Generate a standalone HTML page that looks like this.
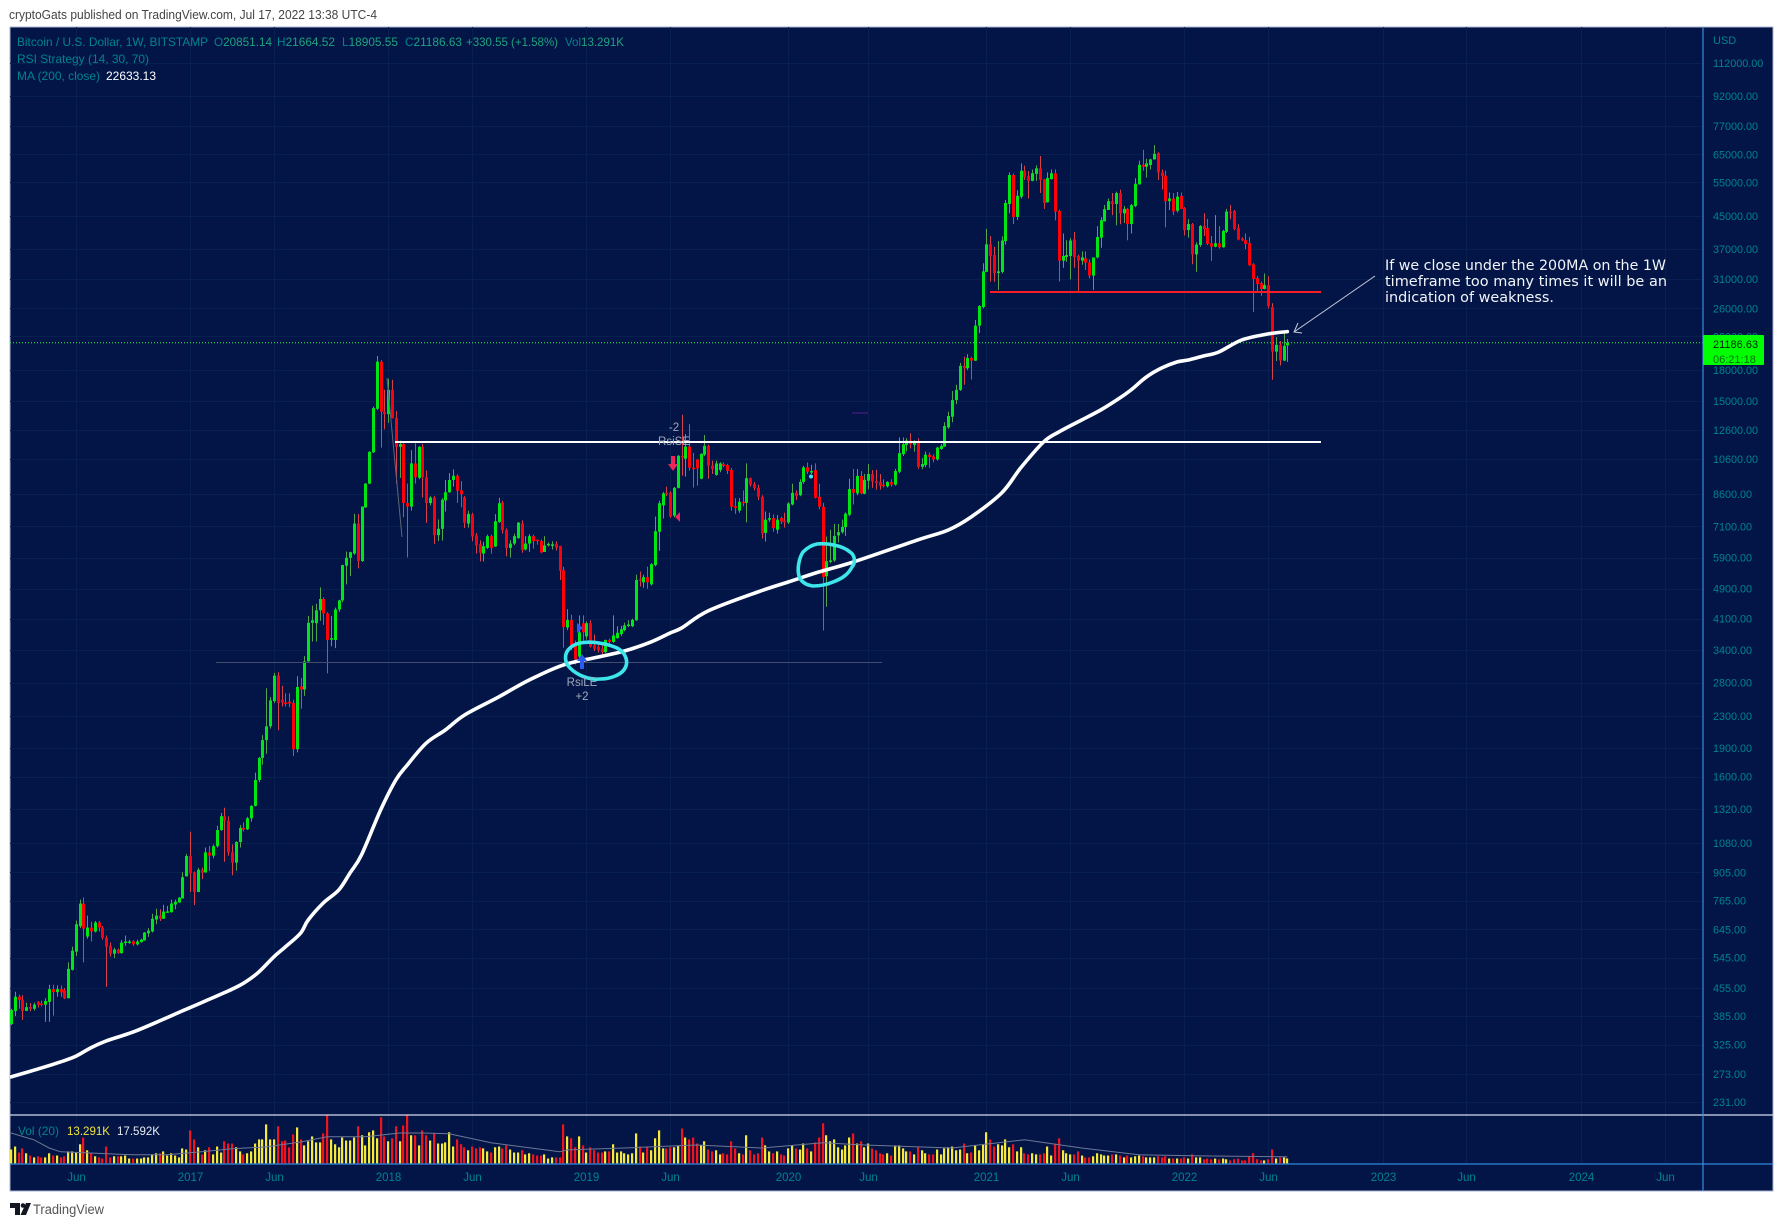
<!DOCTYPE html>
<html lang="en">
<head>
<meta charset="utf-8">
<title>Bitcoin / U.S. Dollar weekly chart</title>
<style>
html,body{margin:0;padding:0;background:#fff;width:1783px;height:1227px;overflow:hidden}
svg{display:block}
text{font-family:"Liberation Sans",sans-serif}
</style>
</head>
<body>
<svg id="chart" xmlns="http://www.w3.org/2000/svg" width="1783" height="1227" viewBox="0 0 1783 1227">
  <defs><clipPath id="pane"><rect x="10" y="27" width="1693" height="1137"/></clipPath></defs>
  <text x="9" y="19" font-size="12.5" fill="#444" textLength="368" lengthAdjust="spacingAndGlyphs">cryptoGats published on TradingView.com, Jul 17, 2022 13:38 UTC-4</text>
  <rect x="10" y="27" width="1763" height="1164" fill="#021546" stroke="#a9b4d4" stroke-width="1"/>
  <g id="grid"></g>
  <g id="volumeLayer" clip-path="url(#pane)"></g>
  <g id="candleLayer" clip-path="url(#pane)"></g>
  <line id="lastLine" x1="10" x2="1703" stroke="#2bff3a" stroke-width="1" stroke-dasharray="1 2"/>
  <line x1="216" y1="662.5" x2="882" y2="662.5" stroke="#414c6c" stroke-width="1"/>
  <line x1="387" y1="378" x2="402" y2="537" stroke="#5f6678" stroke-width="1"/>
  <line x1="395" y1="442" x2="1321" y2="442" stroke="#fff" stroke-width="2"/>
  <line x1="990" y1="292" x2="1321" y2="292" stroke="#f81c24" stroke-width="2"/>
  <path id="maLine" fill="none" stroke="#fff" stroke-width="3.6" stroke-linejoin="round" stroke-linecap="round" clip-path="url(#pane)"/>
  <polyline id="volMaLine" fill="none" stroke="#6d7896" stroke-width="1" clip-path="url(#pane)"/>
  <path d="M580 643 C590 641 606 643 617 648 C625 652 628 660 626 666 C623 675 610 679 600 679 C590 680 578 676 570 668 C564 662 564 653 570 648 C573 645 576 644 580 643 Z" fill="none" stroke="#3ce6ea" stroke-width="3.6"/>
  <path d="M817 544 C826 543 842 545 850 552 C856 556 855 564 852 567 C848 575 841 579 833 582 C826 585 819 586 813 586 C806 585 801 582 799 576 C797 569 799 558 803 552 C807 548 812 545 817 544 Z" fill="none" stroke="#3ce6ea" stroke-width="3.6"/>
  <g>
    <path d="M582 654 L587 661 L584 661 L584 669 L580 669 L580 661 L577 661 Z" fill="#2a5cf0"/>
    <path d="M577 623 L583 628 L577 633 Z" fill="#2a5cf0"/>
    <text x="582" y="686" font-size="11.5" fill="#a2a8ba" text-anchor="middle">RsiLE</text>
    <text x="582" y="700" font-size="11.5" fill="#a2a8ba" text-anchor="middle">+2</text>
  </g>
  <g>
    <path d="M673 471 L668 464 L671 464 L671 456 L675 456 L675 464 L678 464 Z" fill="#ee2458"/>
    <path d="M675 517 L680 512 L680 522 Z" fill="#ee2458"/>
    <text x="674" y="431" font-size="11.5" fill="#a2a8ba" text-anchor="middle">-2</text>
    <text x="674" y="445" font-size="11.5" fill="#a2a8ba" text-anchor="middle">RsiSE</text>
  </g>
  <circle cx="811" cy="476.5" r="2" fill="#3ce6ea"/>
  <rect x="852" y="412" width="16" height="2" fill="#2a1a68"/>
  <g fill="none" stroke="#c8ccd8" stroke-width="1">
    <line x1="1375" y1="276" x2="1294" y2="332"/>
    <polyline points="1298,323 1294,332 1302,333"/>
  </g>
  <g fill="#f2f4f8" font-size="14.5">
    <text x="1385" y="270" style="font-family:'DejaVu Sans',sans-serif" textLength="281" lengthAdjust="spacingAndGlyphs">If we close under the 200MA on the 1W</text>
    <text x="1385" y="286" style="font-family:'DejaVu Sans',sans-serif" textLength="282" lengthAdjust="spacingAndGlyphs">timeframe too many times it will be an</text>
    <text x="1385" y="302" style="font-family:'DejaVu Sans',sans-serif" textLength="169" lengthAdjust="spacingAndGlyphs">indication of weakness.</text>
  </g>
  <g font-size="12" fill="#00838f">
    <text x="17" y="46" textLength="191" lengthAdjust="spacingAndGlyphs">Bitcoin / U.S. Dollar, 1W, BITSTAMP</text>
    <text x="214" y="46" textLength="58" lengthAdjust="spacingAndGlyphs">O<tspan fill="#1fa27f">20851.14</tspan></text>
    <text x="277" y="46" textLength="58" lengthAdjust="spacingAndGlyphs">H<tspan fill="#1fa27f">21664.52</tspan></text>
    <text x="342" y="46" textLength="56" lengthAdjust="spacingAndGlyphs">L<tspan fill="#1fa27f">18905.55</tspan></text>
    <text x="405" y="46" textLength="57" lengthAdjust="spacingAndGlyphs">C<tspan fill="#1fa27f">21186.63</tspan></text>
    <text x="466" y="46" fill="#1fa27f" textLength="92" lengthAdjust="spacingAndGlyphs">+330.55 (+1.58%)</text>
    <text x="565" y="46" textLength="59" lengthAdjust="spacingAndGlyphs">Vol<tspan fill="#1fa27f">13.291K</tspan></text>
    <text x="17" y="63" textLength="132" lengthAdjust="spacingAndGlyphs">RSI Strategy (14, 30, 70)</text>
    <text x="17" y="80" textLength="83" lengthAdjust="spacingAndGlyphs">MA (200, close)</text>
    <text x="106" y="80" fill="#fff" textLength="50" lengthAdjust="spacingAndGlyphs">22633.13</text>
  </g>
  <g font-size="12">
    <text x="18" y="1135" fill="#00838f" textLength="41" lengthAdjust="spacingAndGlyphs">Vol (20)</text>
    <text x="67" y="1135" fill="#f2e33a" textLength="43" lengthAdjust="spacingAndGlyphs">13.291K</text>
    <text x="117" y="1135" fill="#e8ebf2" textLength="43" lengthAdjust="spacingAndGlyphs">17.592K</text>
  </g>
  <line x1="10" y1="1115" x2="1773" y2="1115" stroke="#d6dcee" stroke-width="1.2"/>
  <line x1="10" y1="1164" x2="1773" y2="1164" stroke="#2f86dc" stroke-width="1.2"/>
  <line x1="1703" y1="27" x2="1703" y2="1191" stroke="#3a8ce0" stroke-width="1.2"/>
  <g id="priceAxis"></g>
  <g id="timeAxis"></g>
  <text x="1713" y="44" font-size="11" fill="#00838f">USD</text>
  <g>
    <rect x="1703" y="335" width="61" height="30" rx="1" fill="#00ff00"/>
    <text x="1713" y="348" font-size="11" fill="#04240c">21186.63</text>
    <text x="1713" y="363" font-size="11" fill="#0a6a14">06:21:18</text>
  </g>
  <g>
    <path d="M10 1203 H20 V1215 H15 V1208 H10 Z M26 1203 H31 L26 1215 H20.5 Z" fill="#131722"/>
    <circle cx="23" cy="1205.5" r="2.3" fill="#131722"/>
    <text x="33" y="1214" font-size="13.5" fill="#555" textLength="71" lengthAdjust="spacingAndGlyphs">TradingView</text>
  </g>
</svg>
<script>
const opens = [
367,397,432,424,397,406,402,419,415,412,419,452,444,452,449,428,507,565,657,752,
618,652,637,672,652,614,585,558,572,560,595,596,601,590,598,604,630,637,684,700,
687,715,714,748,757,775,884,998,905,806,920,905,1020,1000,1058,1165,1265,1230,1020,960,
1085,1180,1170,1250,1345,1570,1790,1990,2160,2510,2920,2530,2490,2500,2480,1885,2740,2690,3180,4000,
3990,4310,4610,4230,3630,3610,4330,4570,5620,5890,6040,7220,5780,7950,9160,11030,14300,18930,14050,13850,
16000,13530,11400,11590,8160,7990,10330,9480,11400,9510,8160,8430,6740,7000,8290,8700,9360,9600,8800,8440,
7220,7620,6730,6390,6040,6250,6700,6300,7290,8190,6950,6250,6410,6620,7220,6190,6410,6700,6560,6510,
6100,6370,6360,6400,6320,5470,3890,4070,3500,3270,3990,3690,3990,3500,3470,3430,3360,3610,3570,3650,
3740,3830,3930,3920,4060,5180,5090,5250,5030,5640,6880,8050,8670,8670,7570,8930,10800,10620,11420,10070,
10580,9430,10880,11470,10190,9650,9930,10280,10230,9930,8010,7800,8220,8170,9460,9130,8930,8470,6830,7390,
7460,6960,7460,7340,7270,8090,8670,8550,9250,10090,9850,9930,8470,7980,5280,5750,5800,6730,6860,7070,
7610,8870,8640,9590,8620,9320,9700,9290,9250,9100,9010,9250,9100,9830,10920,11530,11840,11530,11700,10125,
10230,10880,10770,10580,11260,11420,12800,13640,15060,16000,18470,18200,19350,19040,23450,26200,32300,38060,35700,32090,
32300,38800,48400,57500,44800,50540,58970,57100,55530,57900,59850,56000,48880,56100,58110,46430,34530,35300,35500,39200,
35500,34530,35000,34200,31600,35200,39600,43640,46700,49200,48400,51650,45780,47000,42950,47800,54400,61100,60400,61000,
63100,65500,58400,57300,49200,50000,46500,50760,47250,41420,42940,35850,37900,42450,41900,38300,37520,38300,37400,41000,
46250,46430,41970,39400,39000,38300,33780,31110,30200,29180,29850,26200,20100,20930,19050,20851.14
];
const highs = [
402,445,437,436,417,416,417,421,422,428,464,464,462,462,455,530,582,680,770,780,
700,675,678,678,658,622,597,578,575,605,622,606,605,607,610,635,650,708,730,727,
747,742,770,770,782,906,1010,1153,910,930,932,1050,1060,1070,1195,1290,1330,1265,1070,1090,
1200,1220,1260,1350,1640,1800,2050,2710,2570,2970,2980,2750,2630,2630,2530,2910,2880,3280,4170,4430,
4480,4940,4650,4260,4170,4380,4590,5650,6110,6110,7650,7650,8000,9190,11100,14500,19580,19100,16030,17100,
17000,14100,11830,11650,9160,11180,11640,11450,11600,9900,8500,8500,7400,8400,9360,9750,9970,9680,9300,8500,
7800,7700,6830,6540,6480,6760,6760,7640,8420,8270,7020,6540,6800,7290,7360,6700,6780,6760,6570,6570,
6700,6450,6500,6500,6330,5590,4340,4200,3600,4180,4180,4030,4060,3730,3570,3500,3620,3640,4180,3920,
3930,4000,4060,4100,5330,5430,5330,5590,5700,7530,8270,8720,9000,8750,8980,10850,13800,12300,13050,11000,
10600,10970,12230,11550,10500,10500,10400,10400,10300,10050,8400,8400,8800,10330,9500,9250,9100,8550,7760,7700,
7620,7600,7520,7700,8200,9150,8800,9400,10180,10390,10250,10330,9150,8170,6680,6960,7210,7210,7390,7720,
9430,9990,9990,9870,9700,10290,9930,9950,9700,9400,9300,9400,10000,12050,12050,12000,12360,11860,12000,10670,
11080,11020,10900,11400,11600,13200,14050,15900,16500,18800,19500,19800,19500,24250,26500,34000,41770,40000,37520,38800,
39900,49600,58400,58000,52500,61620,60800,58860,59400,60900,64400,56200,58400,59400,59400,46800,40600,39000,39500,41000,
35800,36500,36500,34800,35200,42400,44700,48100,50000,51650,52100,52700,47800,47300,48400,56400,62600,66800,63300,63300,
68700,65800,59400,59000,51800,51650,52000,51800,47500,44200,43200,38500,42700,45780,44300,40000,45300,42400,41500,47000,
48100,46700,42900,39700,40600,39800,34000,31500,30500,32000,31500,26800,21900,21400,22500,21664.52
];
const lows = [
365,385,402,376,397,396,398,405,408,372,372,386,432,432,426,428,505,550,650,530,
610,600,633,637,607,458,548,544,558,558,585,592,585,586,596,603,617,633,665,678,
687,715,714,727,755,775,884,805,745,806,870,905,912,985,1050,1160,965,1000,890,915,
1050,1155,1165,1225,1340,1550,1720,1835,2130,2480,2110,2430,2430,2420,1810,1850,2400,2590,3170,3580,
3580,4050,3950,2960,3480,3440,4270,4520,5030,5280,6000,5530,5750,7930,9130,11000,14200,11350,12650,13150,
13500,9160,9480,7500,5900,7800,9160,9400,8430,7250,8050,6400,6510,6530,7760,8670,9000,8170,7950,7030,
7050,6500,6040,5760,5760,6200,6040,6280,7250,6800,5940,5900,6350,6600,6070,6150,6100,6220,6370,6050,
6100,6300,6190,6150,5160,3450,3830,3400,3120,3200,3600,3620,3450,3380,3350,3320,3340,3520,3550,3640,
3700,3800,3900,3900,4050,4960,4930,4900,5000,5600,6140,7440,8500,7470,7500,8900,9600,9550,9900,8950,
9050,9400,10800,9430,9700,9600,9800,10100,9700,7800,7650,7700,8000,7270,9000,8800,8300,6600,6490,7300,
6880,6800,7200,7050,7200,8050,8300,8500,9150,9700,9700,8390,7850,3820,4400,5700,5750,6450,6800,6710,
7550,8090,8550,8600,8600,8850,8930,8840,8840,8950,8950,9000,9050,9750,10800,11100,11300,11080,10000,9980,
10100,10070,10400,10500,11200,11400,12700,13200,14700,15900,16500,18000,17020,19000,22430,26000,32300,30460,30460,29000,
32000,38000,45780,42950,44000,50000,55800,50000,55400,55530,51650,47000,48800,56000,43900,30500,33100,34300,30900,33100,
28700,33700,32700,31110,29000,35000,37300,43640,46700,45300,42600,42900,43200,39000,40600,47500,54300,59000,56600,59400,
63000,55800,52700,42100,46700,45300,46000,47000,40100,39600,33800,32300,37500,40000,37900,34500,37400,37100,37300,40700,
44200,41400,39000,38800,37000,33500,25460,28500,28000,29100,26000,17000,19000,18500,19000,18905.55
];
const closes = [
399,432,424,397,406,402,412,412,413,421,452,444,452,443,428,510,568,665,752,648,
652,637,672,652,614,582,558,572,560,596,600,600,590,600,607,633,640,687,700,687,
717,718,752,760,779,880,998,900,806,920,905,1020,1000,1058,1165,1265,1230,1020,960,1085,
1180,1170,1250,1345,1570,1790,1990,2160,2520,2920,2480,2490,2470,2475,1885,2730,2690,3180,4000,4060,
4310,4610,4230,3610,3650,4330,4570,5640,5890,6090,7220,5780,7990,9160,11070,14350,18930,14050,13850,16000,
13530,11400,11590,8160,7990,10330,9510,11400,9510,8160,8430,6740,7000,8320,8700,9360,9600,8780,8600,7260,
7650,6690,6340,6070,6310,6700,6250,7320,8150,6950,6250,6410,6700,7260,6170,6410,6700,6500,6520,6080,
6340,6400,6380,6250,5450,3900,4070,3500,3220,3780,3780,3990,3470,3430,3400,3360,3610,3570,3710,3770,
3850,3940,3960,4070,5160,5140,5250,5090,5670,6900,8150,8640,8600,7530,8930,10810,10730,11420,10070,10030,
10030,10940,11470,10190,9990,10330,10330,10230,9890,7980,7920,8220,8160,9460,9100,8930,8470,6810,7390,7460,
7030,7390,7310,7270,8140,8670,8500,9250,10090,9830,9870,8420,7980,5250,5770,5800,6710,6860,7080,7660,
8870,8670,9590,8640,9370,9700,9280,9270,9050,9050,9250,9100,9870,10980,11580,11840,11600,11770,10125,10290,
10880,10730,10580,11350,11470,12900,13700,15060,16000,18470,18200,19350,19040,23450,26370,32400,38060,35500,32090,32400,
38930,48680,57500,44800,50800,58970,56780,55530,58110,59850,55800,48680,56460,58110,46250,34530,35500,35700,38930,35300,
34530,35200,34130,31600,35200,39750,43930,46910,49200,48400,51650,45780,47000,42950,48050,54570,61100,60400,61620,63100,
65240,58400,57150,49200,50000,46250,50540,47000,41420,42940,35850,38000,42450,41640,38170,37520,38300,37400,41200,46250,
45800,41720,39170,39000,38170,33600,30980,30050,29180,29850,26350,20100,20930,19050,20790,21186.63
];
const volumes = [
37,45,29,40,27,21,16,19,16,16,27,21,21,16,19,32,32,29,51,69,
35,27,19,16,13,45,16,19,19,19,21,13,13,13,13,16,16,24,27,27,
32,21,27,21,16,40,37,88,64,43,24,35,43,24,45,29,59,53,53,43,
32,24,27,32,53,64,64,104,64,64,99,59,61,43,77,96,64,48,59,72,
56,56,80,128,64,51,43,69,61,61,69,99,75,48,83,88,67,123,72,59,
67,99,59,101,128,75,75,48,88,75,61,80,53,53,56,83,45,64,51,43,
35,45,40,43,40,32,29,43,45,40,48,37,29,29,35,24,27,24,21,21,
24,13,16,16,16,104,72,67,43,72,48,29,43,35,29,29,32,32,51,29,
32,27,24,27,80,45,29,43,35,67,88,40,40,43,43,48,93,69,64,69,
53,48,59,37,32,35,24,27,24,59,40,27,24,75,35,24,27,69,48,32,
27,32,24,21,40,48,40,37,53,40,32,56,69,107,75,59,64,43,37,48,
69,80,53,59,43,53,40,35,27,24,27,21,48,48,40,32,32,24,43,35,
27,24,24,37,24,40,43,45,35,37,53,27,29,48,35,51,83,64,45,51,
48,64,43,51,32,43,27,24,27,24,24,27,45,21,53,67,35,27,24,24,
32,21,16,16,19,27,24,21,21,24,24,21,16,21,16,19,21,19,16,16,
16,19,16,19,13,13,13,13,16,13,24,16,16,11,13,11,13,11,13,11,
8,11,13,8,8,19,27,11,8,8,11,37,13,16,16,13.291
];
const maWeeks = [0,6,13,17,21,25,32,39,45,51,57,61,65,69,72,76,78,82,86,89,92,97,101,104,109,114,119,128,136,145,154,161,168,173,176,183,196,204,212,221,238,246,252,260,265,271,275,281,286,291,294,298,302,306,309,313,317,323,330,335];
const maValues = [268,279,293,303,319,332,350,374,397,421,447,468,500,548,581,631,682,755,815,903,1005,1313,1569,1715,1955,2113,2310,2573,2846,3113,3262,3382,3570,3765,3879,4293,4806,5100,5412,5742,6551,6948,7511,8661,10050,11735,12457,13375,14200,15245,16000,17280,18230,18890,19120,19580,20050,21530,22325,22633];
const volMaWeeks = [0,6,10,13,20,32,41,50,58,67,76,83,93,102,108,115,126,138,144,146,161,180,197,213,224,247,266,281,296,312,335];
const volMaValues = [81,63,41,31,28,23,23,31,39,44,57,71,71,81,81,79,55,39,31,36,41,49,41,55,49,41,63,41,23,20,17.592];
const priceTicks = [112000,92000,77000,65000,55000,45000,37000,31000,26000,22000,18000,15000,12600,10600,8600,7100,5900,4900,4100,3400,2800,2300,1900,1600,1320,1080,905,765,645,545,455,385,325,273,231];
const timeLabels = ["Jun","2017","Jun","2018","Jun","2019","Jun","2020","Jun","2021","Jun","2022","Jun","2023","Jun","2024","Jun"];
const timeWeeks = [17,47,69,99,121,151,173,204,225,256,278,308,330,360,382,412,434];
const lastClose = 21186.63;

const NS = 'http://www.w3.org/2000/svg';
function xScale(i){ return 11 + 3.81 * i; }
function yScale(p){ return 63 + Math.log(112000 / p) * 168; }
function volScale(v){ return 1163.4 - v * 48 / 128; }
function make(tag, parent, attrs){
  const el = document.createElementNS(NS, tag);
  for (const k in attrs) el.setAttribute(k, attrs[k]);
  parent.appendChild(el);
  return el;
}
function smoothPath(pts){
  let d = 'M' + pts[0][0].toFixed(1) + ' ' + pts[0][1].toFixed(1);
  for (let n = 0; n < pts.length - 1; n++){
    const a = pts[Math.max(0, n - 1)], b = pts[n], c = pts[n + 1], e = pts[Math.min(pts.length - 1, n + 2)];
    const c1x = b[0] + (c[0] - a[0]) / 6, c1y = b[1] + (c[1] - a[1]) / 6;
    const c2x = c[0] - (e[0] - b[0]) / 6, c2y = c[1] - (e[1] - b[1]) / 6;
    d += ' C' + c1x.toFixed(1) + ' ' + c1y.toFixed(1) + ' ' + c2x.toFixed(1) + ' ' + c2y.toFixed(1) + ' ' + c[0].toFixed(1) + ' ' + c[1].toFixed(1);
  }
  return d;
}

const grid = document.getElementById('grid');
const priceAxis = document.getElementById('priceAxis');
priceTicks.forEach(function(p){
  const y = Math.round(yScale(p)) + 0.5;
  const line = make('line', grid, {x1:10, x2:1703, y1:y, y2:y, stroke:'#08204f', 'stroke-width':1});
  
  
  const label = make('text', priceAxis, {x:1713, y:yScale(p) + 4, 'font-size':10.8, fill:'#00838f'});
  
  
  label.textContent = p.toFixed(2);
});

const timeAxis = document.getElementById('timeAxis');
timeLabels.forEach(function(t, n){
  const x = Math.round(xScale(timeWeeks[n])) + 0.5;
  const line = make('line', grid, {x1:x, x2:x, y1:27, y2:1164, stroke:'#08204f', 'stroke-width':1});
  
  
  const label = make('text', timeAxis, {x:x, y:1181, 'font-size':11.5, fill:'#00838f', 'text-anchor':'middle'});
  
  
  label.textContent = t;
});

const volumeLayer = document.getElementById('volumeLayer');
volumes.forEach(function(v, i){
  const up = closes[i] >= opens[i];
  const top = volScale(v);
  const bar = make('rect', volumeLayer, {x:Math.round(xScale(i)) - 1, y:top, width:2.2, height:1163.4 - top, fill: up ? '#f7e93a' : '#f0141e'});
  
  
});

const candleLayer = document.getElementById('candleLayer');
closes.forEach(function(c, i){
  const o = opens[i];
  const up = c >= o;
  const x = Math.round(xScale(i));
  const g = make('g', candleLayer, {});
  
  
  const wick = make('line', g, {x1:x + 0.5, x2:x + 0.5, y1:yScale(highs[i]), y2:yScale(lows[i]), stroke: up ? '#4fa64f' : '#d8404a', 'stroke-width':1});
  
  
  const yTop = yScale(Math.max(o, c));
  const yBottom = yScale(Math.min(o, c));
  const body = make('rect', g, {x:x - 1, y:yTop, width:3, height:Math.max(1.5, yBottom - yTop), fill: up ? '#00e614' : '#ff0008'});
  
  
});

document.getElementById('maLine').setAttribute('d', smoothPath(maWeeks.map(function(w, n){
  return [xScale(w), yScale(maValues[n])];
})));
document.getElementById('volMaLine').setAttribute('points', volMaWeeks.map(function(w, n){
  return xScale(w).toFixed(1) + ',' + volScale(volMaValues[n]).toFixed(1);
}).join(' '));
const lastLine = document.getElementById('lastLine');
lastLine.setAttribute('y1', yScale(lastClose));
lastLine.setAttribute('y2', yScale(lastClose));
</script>
</body>
</html>
